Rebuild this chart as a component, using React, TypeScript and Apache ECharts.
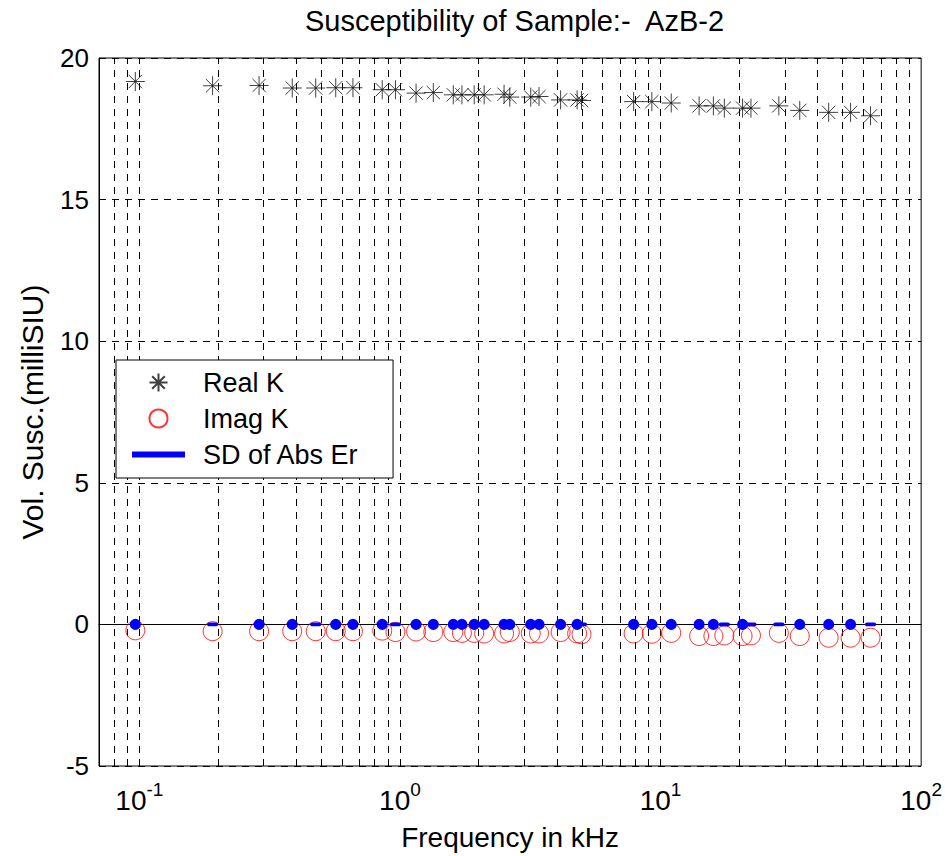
import React, { useEffect, useRef } from 'react';
import * as echarts from 'echarts';

// Frequency (kHz) of each measurement
const frequencies = [
  0.0965, 0.191, 0.288, 0.386, 0.475, 0.567, 0.66, 0.855, 0.961, 1.153,
  1.343, 1.602, 1.729, 1.927, 2.104, 2.509, 2.639, 3.176, 3.417, 4.135,
  4.785, 4.974, 7.883, 9.26, 10.99, 14.06, 15.95, 17.57, 20.64, 22.23,
  28.44, 34.21, 44.17, 53.61, 63.94,
];
// Real part of volume susceptibility (milliSIU)
const realK = [
  19.17, 19.02, 19.03, 18.94, 18.94, 18.95, 18.95, 18.88, 18.88, 18.76,
  18.78, 18.7, 18.7, 18.7, 18.7, 18.72, 18.62, 18.62, 18.64, 18.52,
  18.52, 18.5, 18.46, 18.46, 18.41, 18.31, 18.31, 18.23, 18.23, 18.23,
  18.31, 18.15, 18.08, 18.08, 17.96,
];
// Imaginary part (milliSIU)
const imagK = [
  -0.21, -0.24, -0.24, -0.24, -0.24, -0.24, -0.24, -0.22, -0.27, -0.25,
  -0.27, -0.27, -0.3, -0.3, -0.32, -0.32, -0.27, -0.32, -0.32, -0.27,
  -0.32, -0.35, -0.32, -0.33, -0.3, -0.41, -0.41, -0.39, -0.41, -0.39,
  -0.3, -0.41, -0.47, -0.47, -0.47,
];
// Standard deviation of absolute error (milliSIU)
const sdAbsErr = [
  0.16, 0.03, 0.16, 0.16, 0.03, 0.16, 0.16, 0.16, 0.03, 0.16,
  0.16, 0.16, 0.16, 0.16, 0.16, 0.16, 0.16, 0.16, 0.16, 0.16,
  0.16, 0.03, 0.16, 0.16, 0.16, 0.16, 0.16, 0.03, 0.16, 0.03,
  0.03, 0.16, 0.16, 0.16, 0.03,
];
// Log-axis grid positions (minor + major ticks)
const gridFreqs = [
  0.08, 0.09, 0.1, 0.2, 0.3, 0.4, 0.5, 0.6, 0.7, 0.8, 0.9,
  1, 2, 3, 4, 5, 6, 7, 8, 9, 10, 20, 30, 40, 50, 60, 70, 80, 90,
];
const xMin = 0.07;
const xMax = 100;
const yMin = -5;
const yMax = 20;
const yStep = 5;

const TITLE = 'Susceptibility of Sample:-  AzB-2';
const X_NAME = 'Frequency in kHz';
const Y_NAME = 'Vol. Susc.(milliSIU)';
const NAMES = ['Real K', 'Imag K', 'SD of Abs Er'];

const FONT = "'Liberation Sans', Arial, Helvetica, sans-serif";
const STAR = 'path://M10,0L10,20M0,10L20,10M3,3L17,17M3,17L17,3';
const DASH = [7, 6];

export default function App() {
  const ref = useRef<HTMLDivElement>(null);

  useEffect(() => {
    const chart = echarts.init(ref.current!, null, { renderer: 'svg' });
    const option: any = {
      animation: false,
      backgroundColor: '#ffffff',
      textStyle: { fontFamily: FONT, color: '#000' },
      title: {
        text: TITLE,
        left: 305,
        top: 6,
        padding: 0,
        textStyle: { fontFamily: FONT, fontSize: 29, fontWeight: 'normal', color: '#000' },
      },
      grid: {
        left: 99,
        right: 22,
        top: 58,
        bottom: 89,
        show: true,
        borderColor: '#000',
        borderWidth: 1,
        backgroundColor: '#fff',
      },
      legend: {
        orient: 'vertical',
        left: 116,
        top: 360,
        z: 20,
        padding: [9, 34, 10, 16],
        itemWidth: 53,
        itemHeight: 18,
        itemGap: 9,
        selectedMode: false,
        backgroundColor: '#fff',
        borderColor: '#000',
        borderWidth: 1,
        textStyle: { fontFamily: FONT, fontSize: 27, color: '#000', padding: [0, 0, 0, 13] },
        data: [
          { name: NAMES[0], icon: STAR },
          { name: NAMES[1], icon: 'circle' },
          { name: NAMES[2], icon: 'path://M0,0L53,0L53,6L0,6Z' },
        ],
      },
      xAxis: {
        type: 'log',
        logBase: 10,
        min: xMin,
        max: xMax,
        name: X_NAME,
        nameLocation: 'middle',
        nameGap: 57,
        nameTextStyle: { fontFamily: FONT, fontSize: 28, color: '#000' },
        axisLine: { show: true, lineStyle: { color: '#000', width: 1 } },
        axisTick: { show: false },
        splitLine: { show: false },
        axisLabel: {
          margin: 14,
          color: '#000',
          formatter: (v: number) => {
            const l = Math.log10(v);
            const e = Math.round(l);
            if (Math.abs(l - e) > 1e-6) return '';
            return `{b|10}{s|${e}}`;
          },
          rich: {
            b: { fontFamily: FONT, fontSize: 28, lineHeight: 40, color: '#000' },
            s: { fontFamily: FONT, fontSize: 19, lineHeight: 22, verticalAlign: 'top', color: '#000' },
          },
        },
      },
      yAxis: {
        type: 'value',
        min: yMin,
        max: yMax,
        interval: yStep,
        name: Y_NAME,
        nameLocation: 'middle',
        nameGap: 52,
        nameTextStyle: { fontFamily: FONT, fontSize: 30, color: '#000' },
        axisLine: { show: true, lineStyle: { color: '#000', width: 1 } },
        axisTick: { show: false },
        splitLine: { show: true, lineStyle: { color: '#000', width: 1, type: DASH } },
        axisLabel: { margin: 10, fontFamily: FONT, fontSize: 26, color: '#000' },
      },
      series: [
        {
          name: '_grid',
          type: 'line',
          data: [],
          z: 1,
          silent: true,
          markLine: {
            silent: true,
            z: 1,
            symbol: ['none', 'none'],
            label: { show: false },
            animation: false,
            lineStyle: { color: '#000', width: 1, type: DASH },
            data: [
              ...gridFreqs.map((f) => ({ xAxis: f })),
              { yAxis: 0, lineStyle: { color: '#000', width: 1, type: 'solid' } },
            ],
          },
        },
        {
          name: NAMES[0],
          type: 'scatter',
          z: 3,
          symbol: STAR,
          symbolSize: 19,
          itemStyle: { color: 'rgba(0,0,0,0)', borderColor: '#111', borderWidth: 1 },
          data: frequencies.map((f, i) => [f, realK[i]]),
        },
        {
          name: NAMES[1],
          type: 'scatter',
          z: 3,
          symbol: 'circle',
          symbolSize: 19,
          itemStyle: { color: 'rgba(0,0,0,0)', borderColor: '#ff0000', borderWidth: 1 },
          data: frequencies.map((f, i) => [f, imagK[i]]),
        },
        {
          name: NAMES[2],
          type: 'custom',
          z: 4,
          itemStyle: { color: '#0000ff' },
          encode: { x: 0, y: 1 },
          data: frequencies.map((f, i) => [f, sdAbsErr[i]]),
          renderItem: (params: any, api: any) => {
            const f = api.value(0);
            const s = api.value(1);
            const top = api.coord([f, s]);
            const bot = api.coord([f, -s]);
            const h = Math.max(bot[1] - top[1], 1.5);
            const cy = (top[1] + bot[1]) / 2;
            return {
              type: 'rect',
              shape: { x: top[0] - 4.5, y: cy - h / 2, width: 9, height: h, r: 4.5 },
              style: { fill: '#0000ff', stroke: '#0000ff', lineWidth: 2 },
            };
          },
        },
      ],
    };
    chart.setOption(option);
    return () => chart.dispose();
  }, []);

  return (
    <div
      ref={ref}
      style={{ position: 'fixed', left: 0, top: 0, width: 945, height: 856, background: '#fff' }}
    />
  );
}
